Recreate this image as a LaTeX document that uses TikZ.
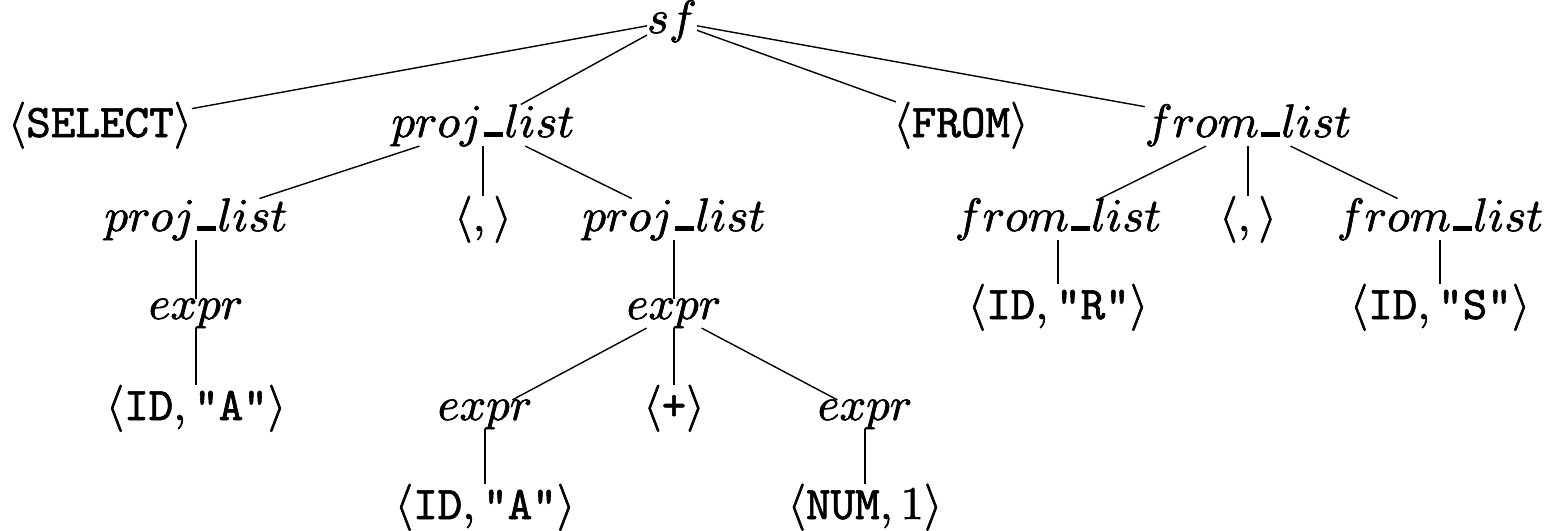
\documentclass[tikz,border=0pt]{standalone}
% underscore drawn as a short heavy bar on the baseline
\newcommand{\ubar}{\mbox{\kern.05em\rule{.4em}{1pt}\kern.03em}}
\newcommand{\tok}[1]{\ensuremath{\langle #1\rangle}}
% slightly heavier glyphs: fill and stroke the outlines
\newcommand{\heavyon}{\special{pdf:literal direct 2 Tr 0.14 w}}
\newcommand{\heavyoff}{\special{pdf:literal direct 0 Tr 0.4 w}}
\begin{document}
\begin{tikzpicture}[x=0.2137pt,y=-0.2137pt,
  tn/.style={inner sep=0pt,outer sep=0pt,anchor=base,
    execute at begin node=\heavyon,execute at end node=\heavyoff},
  br/.style={line width=0.3pt}]
\useasboundingbox (0,0) rectangle (1544,531);
% level 0
\node[tn] (sf) at (672,33) {$sf$};
% level 1
\node[tn] (sel) at (100,137) {\tok{\texttt{SELECT}}};
\node[tn] (pl) at (483,137) {$proj\ubar list$};
\node[tn] (from) at (961,137) {\tok{\texttt{FROM}}};
\node[tn] (fl) at (1248,137) {$from\ubar list$};
% level 2
\node[tn] (pla) at (196,231) {$proj\ubar list$};
\node[tn] (c1) at (483,231) {\tok{,}};
\node[tn] (plb) at (674,231) {$proj\ubar list$};
\node[tn] (fla) at (1058,231) {$from\ubar list$};
\node[tn] (c2) at (1248,231) {\tok{,}};
\node[tn] (flb) at (1440,231) {$from\ubar list$};
% level 3
\node[tn] (ea) at (196,319) {$expr$};
\node[tn] (eb) at (674,319) {$expr$};
\node[tn] (idr) at (1058,319) {\tok{\texttt{ID}, \texttt{"R"}}};
\node[tn] (ids) at (1440,319) {\tok{\texttt{ID}, \texttt{"S"}}};
% level 4
\node[tn] (ida) at (196,420) {\tok{\texttt{ID}, \texttt{"A"}}};
\node[tn] (ec) at (485,420) {$expr$};
\node[tn] (plus) at (674,420) {\tok{\texttt{+}}};
\node[tn] (ed) at (865,420) {$expr$};
% level 5
\node[tn] (idb) at (485,519) {\tok{\texttt{ID}, \texttt{"A"}}};
\node[tn] (num) at (865,519) {\tok{\texttt{NUM}, 1}};
% branches
\foreach \p/\c in {sf/sel,sf/pl,sf/from,sf/fl,
  pl/pla,pl/c1,pl/plb,pla/ea,ea/ida,
  plb/eb,eb/ec,eb/plus,eb/ed,ec/idb,ed/num,
  fl/fla,fl/c2,fl/flb,fla/idr,flb/ids}
  \draw[br] (\p) -- (\c);
\end{tikzpicture}
\end{document}
